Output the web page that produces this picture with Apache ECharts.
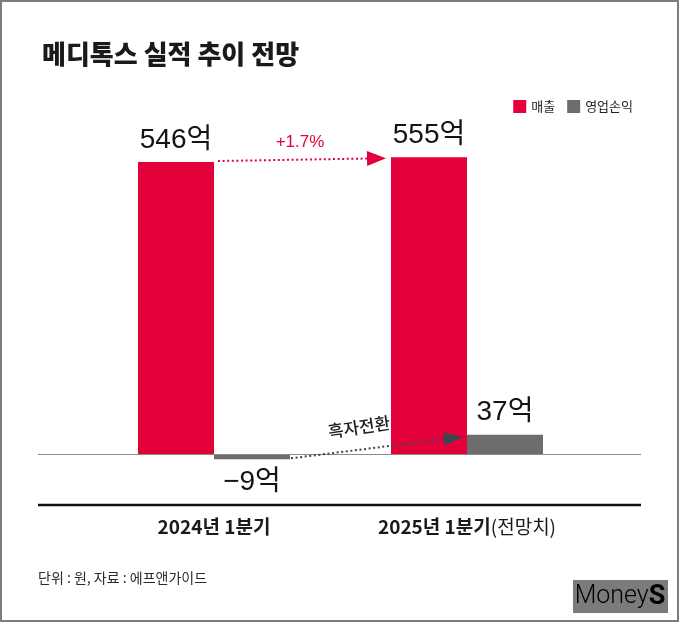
<!DOCTYPE html>
<html>
<head>
<meta charset="utf-8">
<script src="https://cdn.jsdelivr.net/npm/echarts@6/dist/echarts.min.js"></script>
<style>
html,body{margin:0;padding:0;background:#fff;}
#c{width:680px;height:624px;}
</style>
</head>
<body>
<div id="c"></div>
<script>
const titleText = '메디톡스 실적 추이 전망';
const categories = ['2024년 1분기', '2025년 1분기(전망치)'];
const seriesNames = ['매출', '영업손익'];
const salesValues = [546, 555];
const opProfitValues = [-9, 37];
const growthLabel = '+1.7%';
const turnLabel = '흑자전환';
const sourceText = '단위 : 원, 자료 : 에프앤가이드';

const RED = '#e4003a';
const GRAY = '#6d6d6d';
const NUMFONT = '"Liberation Sans Narrow", "Liberation Sans", "Noto Sans CJK KR", sans-serif';
const KFONT = '"Noto Sans CJK KR", sans-serif';

function fmt(v) { return (v < 0 ? '\u2212' + Math.abs(v) : String(v)) + '억'; }

const chart = echarts.init(document.getElementById('c'), null, { renderer: 'canvas' });

const valueLabel = {
  show: true, position: 'top', distance: 8,
  fontFamily: NUMFONT, fontSize: 28, color: '#141414',
  formatter: p => fmt(p.value)
};

chart.setOption({
  animation: false,
  backgroundColor: '#fff',
  title: {
    text: titleText, left: 37, top: 36,
    textStyle: { fontFamily: KFONT, fontSize: 26, fontWeight: 900, color: '#1a1a1a' }
  },
  legend: {
    right: 42, top: 95, icon: 'rect', itemWidth: 13, itemHeight: 13, itemGap: 12,
    textStyle: { fontFamily: KFONT, fontSize: 13, color: '#222' },
    data: seriesNames
  },
  grid: { left: 87.5, right: 86.5, top: 133.1, bottom: 142.7 },
  xAxis: {
    type: 'category', data: categories,
    axisLine: { show: false }, axisTick: { show: false },
    axisLabel: {
      margin: 36,
      formatter: v => {
        const i = v.indexOf('(');
        return i < 0 ? '{b|' + v + '}' : '{b|' + v.slice(0, i) + '}{l|' + v.slice(i) + '}';
      },
      rich: {
        b: { fontFamily: KFONT, fontSize: 19, fontWeight: 'bold', color: '#1a1a1a' },
        l: { fontFamily: KFONT, fontSize: 19, fontWeight: 'normal', color: '#1a1a1a' }
      }
    }
  },
  yAxis: { type: 'value', min: -50, max: 600, show: false, splitLine: { show: false } },
  series: [
    {
      name: seriesNames[0], type: 'bar', data: salesValues, barWidth: 76, barGap: '0%',
      itemStyle: { color: RED }, label: valueLabel
    },
    {
      name: seriesNames[1], type: 'bar', barWidth: 76, barGap: '0%',
      data: opProfitValues.map(v => v < 0 ? { value: v, label: { position: 'bottom', distance: 9 } } : v),
      itemStyle: { color: GRAY }, label: valueLabel
    }
  ]
});

function layoutOf(si, di) {
  const s = chart.getModel().getSeriesByIndex(si);
  const l = s.getData().getItemLayout(di);
  const x0 = Math.min(l.x, l.x + l.width), x1 = Math.max(l.x, l.x + l.width);
  const y0 = Math.min(l.y, l.y + l.height), y1 = Math.max(l.y, l.y + l.height);
  return { x0, x1, y0, y1 };
}

function arrow(x1, y1, x2, y2, color, headLen, headHalf) {
  const a = Math.atan2(y2 - y1, x2 - x1);
  const bx = x2 - headLen * Math.cos(a), by = y2 - headLen * Math.sin(a);
  const px = -Math.sin(a) * headHalf, py = Math.cos(a) * headHalf;
  return [
    { type: 'line', z: 20, shape: { x1, y1, x2: bx, y2: by },
      style: { stroke: color, lineWidth: 2, lineDash: [2, 2.6] } },
    { type: 'polygon', z: 21, shape: { points: [[x2, y2], [bx + px, by + py], [bx - px, by - py]] },
      style: { fill: color } }
  ];
}

const zeroY = chart.convertToPixel({ yAxisIndex: 0 }, 0);
const r0 = layoutOf(0, 0), r1 = layoutOf(0, 1);
const g0 = layoutOf(1, 0), g1 = layoutOf(1, 1);

const ax1 = r0.x1 + 4, ay1 = r0.y0 - 1, ax2 = r1.x0 - 5, ay2 = r1.y0 + 1;
const bx1 = g0.x1 + 1, by1 = g0.y1 - 1, bx2 = g1.x0 - 4, by2 = g1.y0 + 2;

const graphics = [
  { type: 'rect', z: 0, shape: { x: 1, y: 1, width: 677, height: 620 },
    style: { fill: 'none', stroke: '#7d7d7d', lineWidth: 2 } },
  { type: 'line', z: 5, shape: { x1: 38, y1: zeroY, x2: 641, y2: zeroY },
    style: { stroke: '#8a8a8a', lineWidth: 1 } },
  { type: 'line', z: 5, shape: { x1: 38, y1: 505, x2: 641, y2: 505 },
    style: { stroke: '#111', lineWidth: 2.5 } },
  ...arrow(ax1, ay1, ax2, ay2, RED, 19, 7.5),
  { type: 'text', z: 22, x: (ax1 + ax2) / 2 - 2, y: 142,
    style: { text: growthLabel, fill: RED, font: '17px ' + NUMFONT, textAlign: 'center', textVerticalAlign: 'middle' } },
  ...arrow(bx1, by1, bx2, by2, '#3a4750', 19, 6.5),
  { type: 'text', z: 22, x: 359, y: 427, rotation: 0.15,
    style: { text: turnLabel, fill: '#1e1e1e', font: '500 17px ' + KFONT, textAlign: 'center', textVerticalAlign: 'middle',
      stroke: '#fff', lineWidth: 2 } },
  { type: 'text', z: 22, x: 38, y: 578,
    style: { text: sourceText, fill: '#2a2a2a', font: '14px ' + KFONT, textAlign: 'left', textVerticalAlign: 'middle' } },
  { type: 'rect', z: 22, shape: { x: 573, y: 580, width: 95, height: 33 }, style: { fill: '#7b7b7b' } },
  { type: 'text', z: 23, x: 620, y: 597,
    style: { text: '{m|Money}{s|S}', textAlign: 'center', textVerticalAlign: 'middle',
      rich: {
        m: { fontFamily: 'Roboto, "Liberation Sans", sans-serif', fontSize: 25, fontWeight: 300, color: '#fff' },
        s: { fontFamily: 'Roboto, "Liberation Sans", sans-serif', fontSize: 27, fontWeight: 'bold', color: '#fff' }
      } } }
];

chart.setOption({ graphic: graphics });
</script>
</body>
</html>
